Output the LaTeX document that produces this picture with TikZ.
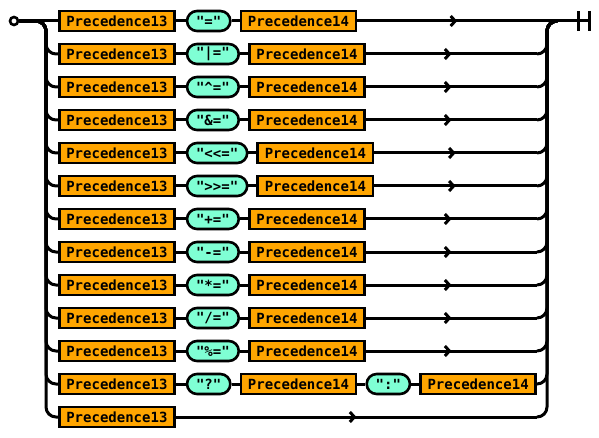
\documentclass[tikz,border=0pt]{standalone}
\usepackage{fontspec}
\setmonofont{DejaVu Sans Mono}
\usetikzlibrary{positioning, arrows.meta, decorations.markings, shadows}
\definecolor{ntfill}{HTML}{FFA500}
\definecolor{tfill}{HTML}{7FFFD4}
\tikzstyle{nonterm} = [rectangle, minimum height=20pt, inner xsep=7pt, inner ysep=0pt, draw=black, line width=2.6pt, fill=ntfill, drop shadow={shadow xshift=1pt, shadow yshift=-1pt, fill=black!30}, font=\fontsize{14}{16}\selectfont\ttfamily\bfseries]
\tikzstyle{term} = [rectangle, rounded corners=10pt, minimum height=20pt, inner xsep=9pt, inner ysep=0pt, draw=black, line width=2.6pt, fill=tfill, drop shadow={shadow xshift=1pt, shadow yshift=-1pt, fill=black!30}, font=\fontsize{14}{16}\selectfont\ttfamily\bfseries]
\tikzstyle{wire} = [line width=3pt]
\tikzstyle{flow} = [wire, postaction={decorate}, decoration={markings, mark=at position 0.5 with {\arrow{Straight Barb[length=4.5pt,width=10pt]}}}]

\begin{document}
\begin{tikzpicture}[x=1pt, y=-1pt]
\useasboundingbox (0,0) rectangle (599,438);
\node (start) [circle, draw, line width=2.6pt, minimum size=8pt, inner sep=0pt, fill=white] at (14,21) {};
\coordinate (split) at (46,21);
\coordinate (merge) at (547,21);
\coordinate (exit) at (557,21);
\coordinate (stop) at (589,21);

% rows with one operator
\foreach \op [count=\i] in {{"="},{"|="},{"\textasciicircum="},{"\&="},{"<<="},{">>="},{"+="},{"-="},{"*="},{"/="},{"\%="}} {
  \pgfmathsetmacro{\y}{21+33*(\i-1)}
  \node (a\i) [nonterm, anchor=west] at (58,\y) {Precedence13};
  \node (t\i) [term, right=10pt of a\i] {\op};
  \node (b\i) [nonterm, right=8pt of t\i] {Precedence14};
  \coordinate (r\i) at (537,\y);
  \draw [wire] (a\i) -- (t\i);
  \draw [wire] (t\i) -- (b\i);
}

% conditional row
\node (a12) [nonterm, anchor=west] at (58,384) {Precedence13};
\node (t12) [term, right=10pt of a12] {"?"};
\node (b12) [nonterm, right=8pt of t12] {Precedence14};
\node (c12) [term, right=8pt of b12] {":"};
\node (d12) [nonterm, right=8pt of c12] {Precedence14};
\draw [wire] (a12) -- (t12);
\draw [wire] (t12) -- (b12);
\draw [wire] (b12) -- (c12);
\draw [wire] (c12) -- (d12);

% plain row
\node (a13) [nonterm, anchor=west] at (58,417) {Precedence13};
\coordinate (r13) at (537,417);

% left side
\draw [wire] (start) -- (a1);
\foreach \i in {2,...,13}
  \draw [wire, rounded corners=10pt] (start) -- (split) |- (a\i.west);

% right side
\draw [flow] (b1) -- (exit);
\draw [wire] (exit) -- (stop);
\draw [wire] (stop) ++(0,-10) -- ++(0,20) ++(-11,0) -- ++(0,-20);
\foreach \i in {2,...,11} {
  \draw [flow] (b\i) -- (r\i);
  \draw [wire, rounded corners=10pt] (r\i) -| (merge) -- (exit);
}
\draw [wire, rounded corners=10pt] (d12.east) -| (merge) -- (exit);
\draw [flow] (a13) -- (r13);
\draw [wire, rounded corners=10pt] (r13) -| (merge) -- (exit);
\end{tikzpicture}
\end{document}
